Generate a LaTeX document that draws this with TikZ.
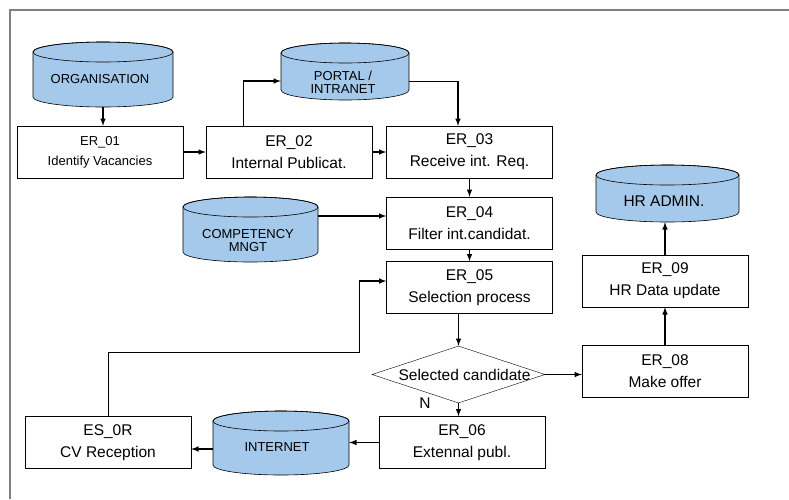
\documentclass[tikz,border=0pt]{standalone}
\usepackage{fontspec}
\setmainfont{Liberation Sans}
\usetikzlibrary{shapes.geometric}

\definecolor{dbblue}{RGB}{164,201,235}

\tikzset{
  procbox/.style={draw, fill=white, minimum width=166pt, minimum height=52pt,
    inner sep=0pt, align=center, font=\fontsize{15.5}{22}\selectfont},
  smallbox/.style={procbox, font=\fontsize{13}{20}\selectfont},
  dblabel/.style={inner sep=0pt, align=center, font=\fontsize{13}{13}\selectfont},
  decision/.style={draw, diamond, minimum width=173pt, minimum height=57pt,
    inner sep=0pt, font=\fontsize{15.5}{18}\selectfont},
  flow/.style={-latex, line width=1.5pt},
  link/.style={line width=0.6pt},
  frame/.style={draw=gray, line width=1.8pt}
}

% data store drawn as a cylinder; #1 names the box around it
\newcommand{\dbstore}[5]{% name, centre x, centre y, width, height
  \pgfmathsetmacro{\dbrx}{#4/2}
  \pgfmathsetmacro{\dbtop}{#3-#5/2+10}
  \pgfmathsetmacro{\dbbot}{#3+#5/2-10}
  \filldraw[fill=dbblue, line width=0.6pt] ({#2-\dbrx},\dbtop) -- ({#2-\dbrx},\dbbot)
    arc[start angle=180, end angle=360, x radius=\dbrx pt, y radius=10pt]
    -- ({#2+\dbrx},\dbtop)
    arc[start angle=0, end angle=180, x radius=\dbrx pt, y radius=10pt] -- cycle;
  \draw[line width=0.6pt] (#2,\dbtop) ellipse[x radius=\dbrx pt, y radius=10pt];
  \node[inner sep=0pt, minimum width=#4pt, minimum height=#5pt] (#1) at (#2,#3) {};
}

\begin{document}
\begin{tikzpicture}[x=1pt,y=-1pt]
\useasboundingbox (0,0) rectangle (789,499);
\draw[frame] (10,499) -- (10,10) -- (789,10);

% data stores
\dbstore{org}{103}{74.5}{140}{65}
\node[dblabel] (orgtxt) at (100,79) {ORGANISATION};
\dbstore{portal}{345}{71.5}{128}{57}
\node[dblabel] (portaltxt) at (343,82.5) {PORTAL /\\INTRANET};
\dbstore{comp}{250.5}{229.5}{135}{65}
\node[dblabel] (comptxt) at (248,240.5) {COMPETENCY\\MNGT};
\dbstore{hradm}{667.5}{193.5}{143}{57}
\node[dblabel, font=\fontsize{15.5}{18}\selectfont] (hradmtxt) at (664,201) {HR ADMIN.};
\dbstore{inet}{281}{443}{136}{64}
\node[dblabel] (inettxt) at (277,447) {INTERNET};

% process steps
\node[smallbox] (er01) at (100,152) {ER\_01\\Identify Vacancies};
\node[procbox] (er02) at (289,152) {ER\_02\\Internal Publicat.};
\node[procbox] (er03) at (469.5,152) {ER\_03\\Receive int. Req.};
\node[procbox] (er04) at (469.5,223) {ER\_04\\Filter int.candidat.};
\node[procbox] (er05) at (469.5,287.5) {ER\_05\\Selection process};
\node[decision] (sel) at (458.5,374.5) {\makebox[0pt]{\hspace{12pt}Selected candidate}};
\node[procbox] (er06) at (462,442.5) {ER\_06\\Extennal publ.};
\node[procbox] (er08) at (665,371.5) {ER\_08\\Make offer};
\node[procbox] (er09) at (665,281) {ER\_09\\HR Data update};
\node[procbox] (es0r) at (108,442.5) {ES\_0R\\CV Reception};
\node[font=\fontsize{15.5}{18}\selectfont] (nlbl) at (425,403) {N};

% helper points for the bent lines
\coordinate (pubup) at (243,81);
\coordinate (portout) at (458,81);
\coordinate (er04in) at ([yshift=7pt]er04.west);
\coordinate (er05in) at ([yshift=6.5pt]er05.west);
\coordinate (bend) at (359,352);
\coordinate (inetout) at ([yshift=-6pt]inet.west);

% connectors
\draw[flow] (org.south) -- (org.south |- er01.north);
\draw[flow] (er01) -- (er02);
\draw[link] (er02.north -| pubup) -- (pubup);
\draw[flow] (pubup) -- (pubup -| portal.west);
\draw[link] (pubup -| portal.east) -- (portout);
\draw[flow] (portout) -- (portout |- er03.north);
\draw[flow] (er02) -- (er03);
\draw[flow] (er03) -- (er04);
\draw[flow] (er04in -| comp.east) -- (er04in);
\draw[flow] (er04) -- (er05);
\draw[flow] (er05.south -| sel.north) -- (sel.north);
\draw[flow] (sel.east) -- (sel.east -| er08.west);
\draw[flow] (er08) -- (er09);
\draw[flow] (er09.north) -- (er09.north |- hradm.south);
\draw[flow] (sel.south) -- (sel.south |- er06.north);
\draw[flow] (er06.west) -- (er06.west -| inet.east);
\draw[flow] (inetout) -- (inetout -| es0r.east);
\draw[link] (es0r.north) |- (bend) -- (bend |- er05in);
\draw[flow] (bend |- er05in) -- (er05in);
\end{tikzpicture}
\end{document}
